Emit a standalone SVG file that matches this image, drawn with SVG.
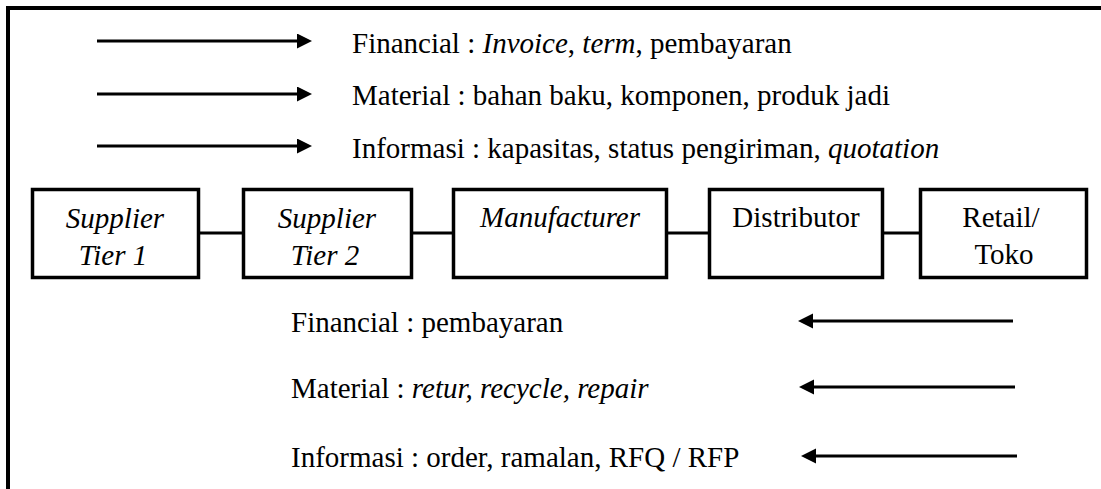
<svg xmlns="http://www.w3.org/2000/svg" width="1101" height="489" viewBox="0 0 1101 489" font-family="'Liberation Serif', 'Times New Roman', Tinos, 'DejaVu Serif', serif">
<style>
text{font-family:'Liberation Serif','Times New Roman',Tinos,'DejaVu Serif',serif;font-size:29px;fill:#000}
.i{font-style:italic}
.c{text-anchor:middle}
.box{fill:#fff;stroke:#000;stroke-width:3.5}
.ln{stroke:#000;stroke-width:3;fill:none}
.fr{stroke:#000;stroke-width:4;fill:none}
</style>
<defs>
<marker id="ah" markerUnits="userSpaceOnUse" markerWidth="16" markerHeight="16" refX="0" refY="7.5" orient="auto">
<path d="M0,0 L15,7.5 L0,15 z" fill="#000"/>
</marker>
</defs>
<rect width="1101" height="489" fill="#fff"/>
<g id="frame">
<path class="fr" d="M8,489 V8 H1101"/>
</g>
<g id="connectors">
<line class="ln" x1="97" y1="41" x2="297" y2="41" marker-end="url(#ah)"/>
<line class="ln" x1="97" y1="94" x2="297" y2="94" marker-end="url(#ah)"/>
<line class="ln" x1="97" y1="146" x2="297" y2="146" marker-end="url(#ah)"/>
<line class="ln" x1="1013" y1="321" x2="813" y2="321" marker-end="url(#ah)"/>
<line class="ln" x1="1015" y1="387" x2="814" y2="387" marker-end="url(#ah)"/>
<line class="ln" x1="1017" y1="456" x2="816" y2="456" marker-end="url(#ah)"/>
<line class="ln" x1="200" y1="233" x2="242" y2="233"/>
<line class="ln" x1="413" y1="233" x2="452" y2="233"/>
<line class="ln" x1="668" y1="233" x2="708" y2="233"/>
<line class="ln" x1="884" y1="233" x2="919" y2="233"/>
</g>
<g id="legend-top">
<text x="352" y="53">Financial : <tspan class="i">Invoice</tspan>, <tspan class="i">term</tspan>, pembayaran</text>
<text x="352" y="105">Material : bahan baku, komponen, produk jadi</text>
<text x="352" y="158">Informasi : kapasitas, status pengiriman, <tspan class="i">quotation</tspan></text>
</g>
<g id="supplier-tier-1">
<rect class="box" x="32.5" y="189.5" width="166" height="88"/>
<text class="c i" x="115" y="228">Supplier</text>
<text class="c i" x="113" y="265">Tier 1</text>
</g>
<g id="supplier-tier-2">
<rect class="box" x="243.5" y="189.5" width="168" height="88"/>
<text class="c i" x="327" y="228">Supplier</text>
<text class="c i" x="325" y="265">Tier 2</text>
</g>
<g id="manufacturer">
<rect class="box" x="453.5" y="189.5" width="213" height="88"/>
<text class="c i" x="560" y="227">Manufacturer</text>
</g>
<g id="distributor">
<rect class="box" x="709.5" y="189.5" width="173" height="88"/>
<text class="c" x="796" y="227">Distributor</text>
</g>
<g id="retail">
<rect class="box" x="920.5" y="189.5" width="166" height="88"/>
<text class="c" x="1001" y="227">Retail/</text>
<text class="c" x="1004" y="264">Toko</text>
</g>
<g id="legend-bottom">
<text x="291" y="332">Financial : pembayaran</text>
<text x="291" y="398">Material : <tspan class="i">retur, recycle, repair</tspan></text>
<text x="291" y="467">Informasi : order, ramalan, RFQ / RFP</text>
</g>
</svg>
